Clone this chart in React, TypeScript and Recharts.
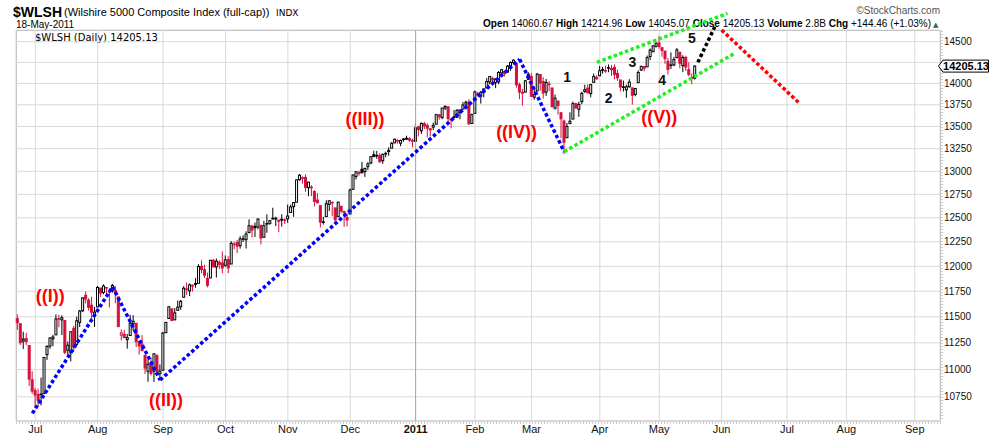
import React from 'react';
import { ComposedChart, Bar, XAxis, YAxis, CartesianGrid, ReferenceLine, ReferenceDot } from 'recharts';

// [day, open, high, low, close]
type Ohlc = [number, number, number, number, number];

const FONT = '"Liberation Sans", Arial, sans-serif';

const closeBefore = 11479; // 22-Jun-2010 close, colours the first bar

const jun2010: Ohlc[] = [
  [23, 11482, 11524, 11374, 11444], [24, 11433, 11433, 11230, 11252], [25, 11267, 11356, 11192, 11285],
  [28, 11292, 11346, 11229, 11262], [29, 11225, 11225, 10849, 10912], [30, 10906, 10984, 10777, 10802],
];
const jul2010: Ohlc[] = [
  [1, 10806, 10832, 10650, 10767], [2, 10770, 10825, 10660, 10717], [6, 10775, 10925, 10673, 10775],
  [7, 10779, 11118, 10779, 11112], [8, 11139, 11227, 11090, 11217], [9, 11219, 11300, 11194, 11297],
  [12, 11289, 11327, 11219, 11306], [13, 11326, 11523, 11326, 11479], [14, 11482, 11519, 11399, 11478],
  [15, 11470, 11514, 11324, 11491], [16, 11464, 11464, 11143, 11160], [19, 11181, 11263, 11120, 11227],
  [20, 11156, 11359, 11076, 11355], [21, 11389, 11413, 11164, 11209], [22, 11236, 11502, 11236, 11462],
  [23, 11446, 11567, 11401, 11556], [26, 11558, 11687, 11547, 11685], [27, 11710, 11748, 11631, 11673],
  [28, 11662, 11682, 11560, 11592], [29, 11613, 11695, 11453, 11544], [30, 11511, 11595, 11402, 11545],
];
const aug2010: Ohlc[] = [
  [2, 11596, 11803, 11596, 11788], [3, 11782, 11783, 11693, 11732], [4, 11738, 11819, 11721, 11802],
  [5, 11787, 11795, 11715, 11787], [6, 11748, 11759, 11592, 11743], [9, 11756, 11823, 11736, 11808],
  [10, 11757, 11802, 11632, 11738], [11, 11694, 11694, 11398, 11407], [12, 11323, 11378, 11273, 11345],
  [13, 11331, 11374, 11297, 11300], [16, 11281, 11335, 11195, 11301], [17, 11320, 11518, 11320, 11438],
  [18, 11434, 11515, 11368, 11456], [19, 11437, 11437, 11210, 11262], [20, 11262, 11262, 11139, 11221],
  [23, 11238, 11324, 11173, 11176], [24, 11132, 11132, 10959, 11013], [25, 10983, 11092, 10887, 11049],
  [26, 11059, 11114, 10945, 10964], [27, 10986, 11153, 10886, 11146], [30, 11129, 11144, 10981, 10982],
  [31, 10961, 11047, 10898, 10986],
];
const sep2010: Ohlc[] = [
  [1, 10995, 11354, 10990, 11343], [2, 11347, 11446, 11344, 11446], [3, 11483, 11604, 11483, 11597],
  [7, 11577, 11577, 11458, 11464], [8, 11470, 11585, 11470, 11538], [9, 11563, 11658, 11563, 11594],
  [10, 11598, 11664, 11568, 11651], [13, 11691, 11801, 11691, 11780], [14, 11773, 11838, 11714, 11772],
  [15, 11754, 11828, 11703, 11814], [16, 11801, 11817, 11748, 11809], [17, 11827, 11881, 11785, 11819],
  [20, 11829, 12021, 11829, 11998], [21, 11999, 12060, 11930, 11968], [22, 11965, 12016, 11882, 11910],
  [23, 11877, 11936, 11789, 11810], [24, 11883, 12063, 11883, 12061], [27, 12060, 12074, 11991, 11993],
  [28, 11994, 12078, 11887, 12051], [29, 12041, 12060, 11973, 12019], [30, 12033, 12151, 11929, 11983],
];
const oct2010: Ohlc[] = [
  [1, 12010, 12110, 11995, 12065], [4, 12068, 12102, 11930, 11984], [5, 12023, 12256, 12023, 12235],
  [6, 12224, 12251, 12173, 12226], [7, 12243, 12268, 12136, 12206], [8, 12210, 12308, 12180, 12281],
  [11, 12282, 12318, 12248, 12282], [12, 12272, 12359, 12181, 12330], [13, 12345, 12484, 12345, 12417],
  [14, 12414, 12426, 12297, 12372], [15, 12411, 12450, 12301, 12397], [18, 12403, 12495, 12380, 12487],
  [19, 12422, 12422, 12223, 12289], [20, 12297, 12468, 12297, 12418], [21, 12435, 12536, 12344, 12440],
  [22, 12442, 12478, 12427, 12470], [25, 12487, 12607, 12487, 12496], [26, 12489, 12512, 12413, 12496],
  [27, 12477, 12477, 12350, 12464], [28, 12485, 12537, 12407, 12477], [29, 12478, 12495, 12434, 12472],
];
const nov2010: Ohlc[] = [
  [1, 12490, 12640, 12448, 12519], [2, 12556, 12641, 12556, 12616], [3, 12618, 12666, 12511, 12662],
  [4, 12666, 12909, 12666, 12907], [5, 12908, 12970, 12898, 12957], [8, 12929, 12944, 12866, 12930],
  [9, 12933, 12967, 12778, 12825], [10, 12822, 12883, 12729, 12882], [11, 12821, 12848, 12732, 12827],
  [12, 12780, 12795, 12622, 12675], [15, 12688, 12762, 12654, 12660], [16, 12629, 12629, 12399, 12455],
  [17, 12455, 12511, 12429, 12458], [18, 12513, 12687, 12513, 12649], [19, 12643, 12684, 12572, 12681],
  [22, 12664, 12672, 12518, 12661], [23, 12605, 12605, 12440, 12480], [24, 12512, 12669, 12512, 12667],
  [26, 12623, 12623, 12546, 12572], [29, 12569, 12569, 12405, 12555], [30, 12504, 12551, 12410, 12478],
];
const dec2010: Ohlc[] = [
  [1, 12540, 12813, 12540, 12796], [2, 12804, 12964, 12804, 12960], [3, 12943, 13004, 12910, 12994],
  [6, 12986, 13006, 12952, 12977], [7, 13022, 13104, 12979, 12984], [8, 12997, 13039, 12939, 13032],
  [9, 13051, 13100, 13014, 13082], [10, 13091, 13161, 13078, 13161], [13, 13183, 13228, 13160, 13162],
  [14, 13176, 13226, 13137, 13173], [15, 13173, 13202, 13093, 13106], [16, 13117, 13196, 13081, 13187],
  [17, 13195, 13218, 13155, 13198], [20, 13218, 13265, 13172, 13232], [21, 13256, 13324, 13256, 13311],
  [22, 13315, 13362, 13315, 13356], [23, 13342, 13354, 13306, 13335], [27, 13312, 13352, 13278, 13342],
  [28, 13359, 13368, 13328, 13353], [29, 13356, 13396, 13356, 13367], [30, 13362, 13380, 13329, 13346],
  [31, 13335, 13361, 13265, 13343],
];
const jan2011: Ohlc[] = [
  [3, 13333, 13531, 13333, 13485], [4, 13496, 13509, 13387, 13467], [5, 13452, 13546, 13416, 13535],
  [6, 13532, 13552, 13469, 13506], [7, 13512, 13537, 13377, 13481], [10, 13474, 13481, 13387, 13462],
  [11, 13493, 13546, 13461, 13513], [12, 13526, 13645, 13526, 13635], [13, 13633, 13643, 13577, 13612],
  [14, 13602, 13712, 13583, 13712], [18, 13712, 13743, 13688, 13731], [19, 13726, 13727, 13560, 13592],
  [20, 13581, 13583, 13479, 13575], [21, 13610, 13690, 13594, 13607], [24, 13606, 13698, 13598, 13686],
  [25, 13659, 13692, 13583, 13690], [26, 13699, 13781, 13699, 13748], [27, 13757, 13798, 13725, 13779],
  [28, 13780, 13813, 13519, 13532], [31, 13534, 13648, 13534, 13636],
];
const feb2011: Ohlc[] = [
  [1, 13650, 13914, 13650, 13900], [2, 13882, 13900, 13847, 13862], [3, 13849, 13910, 13764, 13894],
  [4, 13893, 13936, 13837, 13935], [7, 13946, 14062, 13946, 14022], [8, 14019, 14084, 13989, 14081],
  [9, 14058, 14079, 13977, 14041], [10, 14011, 14061, 13943, 14052], [11, 14018, 14146, 13990, 14129],
  [14, 14124, 14170, 14105, 14162], [15, 14142, 14142, 14081, 14117], [16, 14133, 14219, 14133, 14205],
  [17, 14185, 14260, 14149, 14248], [18, 14248, 14288, 14224, 14276], [22, 14233, 14233, 13950, 13983],
  [23, 13983, 14009, 13814, 13898], [24, 13894, 13935, 13740, 13884], [25, 13897, 14038, 13897, 14031],
  [28, 14048, 14132, 14041, 14108],
];
const mar2011: Ohlc[] = [
  [1, 14083, 14120, 13845, 13847], [2, 13838, 13931, 13808, 13869], [3, 13911, 14122, 13911, 14109],
  [4, 14105, 14110, 13914, 14004], [7, 14021, 14074, 13822, 13887], [8, 13898, 14052, 13853, 14011],
  [9, 13991, 14026, 13910, 13992], [10, 13946, 13946, 13719, 13728], [11, 13710, 13868, 13695, 13826],
  [14, 13793, 13793, 13636, 13742], [15, 13658, 13658, 13368, 13588], [16, 13563, 13578, 13190, 13323],
  [17, 13373, 13540, 13373, 13501], [18, 13533, 13662, 13528, 13560], [21, 13585, 13786, 13585, 13763],
  [22, 13762, 13773, 13703, 13714], [23, 13697, 13785, 13611, 13754], [24, 13786, 13900, 13756, 13883],
  [25, 13905, 13984, 13888, 13926], [28, 13944, 13989, 13888, 13888], [29, 13880, 13986, 13836, 13986],
  [30, 14012, 14116, 14012, 14080], [31, 14070, 14096, 14045, 14053],
];
const apr2011: Ohlc[] = [
  [1, 14090, 14208, 14085, 14150], [4, 14163, 14196, 14115, 14155], [5, 14146, 14212, 14125, 14152],
  [6, 14187, 14224, 14132, 14183], [7, 14176, 14218, 14089, 14162], [8, 14190, 14225, 14049, 14106],
  [11, 14118, 14163, 14030, 14066], [12, 14040, 14040, 13907, 13957], [13, 13955, 14033, 13904, 13959],
  [14, 13924, 13984, 13831, 13960], [15, 13960, 14049, 13949, 14015], [18, 13947, 13947, 13750, 13860],
  [19, 13870, 13941, 13848, 13940], [20, 14009, 14153, 14009, 14129], [21, 14159, 14204, 14146, 14203],
  [25, 14200, 14205, 14143, 14180], [26, 14196, 14332, 14196, 14307], [27, 14320, 14417, 14276, 14398],
  [28, 14378, 14461, 14375, 14449], [29, 14444, 14492, 14429, 14481],
];
const may2011: Ohlc[] = [
  [2, 14485, 14570, 14415, 14442], [3, 14427, 14438, 14318, 14394], [4, 14386, 14386, 14233, 14295],
  [5, 14262, 14302, 14103, 14165], [6, 14220, 14370, 14171, 14220], [9, 14220, 14317, 14203, 14284],
  [10, 14306, 14423, 14306, 14400], [11, 14371, 14371, 14179, 14240], [12, 14211, 14335, 14133, 14309],
  [13, 14310, 14329, 14147, 14194], [16, 14162, 14252, 14083, 14106], [17, 14070, 14116, 13990, 14060.67],
  [18, 14060.67, 14214.96, 14045.07, 14205.13],
];

const candleMonths: [string, Ohlc[]][] = [
  ['2010-06', jun2010], ['2010-07', jul2010], ['2010-08', aug2010], ['2010-09', sep2010],
  ['2010-10', oct2010], ['2010-11', nov2010], ['2010-12', dec2010], ['2011-01', jan2011],
  ['2011-02', feb2011], ['2011-03', mar2011], ['2011-04', apr2011], ['2011-05', may2011],
];

// empty trading days the chart leaves room for on the right
const futureMonths: [string, number[]][] = [
  ['2011-05', [19, 20, 23, 24, 25, 26, 27, 31]],
  ['2011-06', [1, 2, 3, 6, 7, 8, 9, 10, 13, 14, 15, 16, 17, 20, 21, 22, 23, 24, 27, 28, 29, 30]],
  ['2011-07', [1, 5, 6, 7, 8, 11, 12, 13, 14, 15, 18, 19, 20, 21, 22, 25, 26, 27, 28, 29]],
  ['2011-08', [1, 2, 3, 4, 5, 8, 9, 10, 11, 12, 15, 16, 17, 18, 19, 22, 23, 24, 25, 26, 29, 30, 31]],
  ['2011-09', [1, 2, 6, 7, 8, 9, 12, 13, 14]],
];

const monthTicks: [string, string][] = [
  ['2010-07-01', 'Jul'], ['2010-08-02', 'Aug'], ['2010-09-01', 'Sep'], ['2010-10-01', 'Oct'],
  ['2010-11-01', 'Nov'], ['2010-12-01', 'Dec'], ['2011-01-03', '2011'], ['2011-02-01', 'Feb'],
  ['2011-03-01', 'Mar'], ['2011-04-01', 'Apr'], ['2011-05-02', 'May'], ['2011-06-01', 'Jun'],
  ['2011-07-01', 'Jul'], ['2011-08-01', 'Aug'], ['2011-09-01', 'Sep'],
];

const priceTicks = [10750, 11000, 11250, 11500, 11750, 12000, 12250, 12500, 12750, 13000, 13250, 13500, 13750, 14000, 14250, 14500];
const priceDomain = [10533, 14644];

// hand drawn wave lines: [date, price]
const blueWave: [string, number][] = [['2010-06-30', 10601], ['2010-08-09', 11794], ['2010-08-31', 10903], ['2011-02-23', 14287], ['2011-03-16', 13216]];
const greenLower: [string, number][] = [['2011-03-16', 13216], ['2011-06-07', 14350]];
const greenUpper: [string, number][] = [['2011-03-31', 14250], ['2011-06-03', 14851]];
const blackLeg: [string, number][] = [['2011-05-19', 14250], ['2011-05-27', 14706]];
const redLeg: [string, number][] = [['2011-06-01', 14644], ['2011-07-08', 13773]];

const dottedPaths = [
  { pts: blueWave, color: '#0000ff' },
  { pts: greenLower, color: '#22ee22' },
  { pts: greenUpper, color: '#22ee22' },
  { pts: blackLeg, color: '#000000' },
  { pts: redLeg, color: '#ff0000' },
];

const waveLabels: [string, number, string][] = [
  ['2010-07-09', 11703, '((I))'], ['2010-09-02', 10722, '((II))'], ['2010-12-08', 13585, '((III))'],
  ['2011-02-22', 13437, '((IV))'], ['2011-05-02', 13608, '((V))'],
];
const subLabels: [string, number, string][] = [
  ['2011-03-17', 14075, '1'], ['2011-04-06', 13828, '2'], ['2011-04-18', 14254, '3'],
  ['2011-05-03', 14039, '4'], ['2011-05-17', 14545, '5'],
];

const quote: [string, string][] = [
  ['Open', '14060.67'], ['High', '14214.96'], ['Low', '14045.07'], ['Close', '14205.13'],
  ['Volume', '2.8B'], ['Chg', '+144.46 (+1.03%)'],
];

const pad = (n: number) => String(n).padStart(2, '0');

const rows: any[] = [];
let prevClose = closeBefore;
for (const [m, list] of candleMonths) {
  for (const [day, o, h, l, c] of list) {
    rows.push({ d: `${m}-${pad(day)}`, o, h, l, c, pc: prevClose, range: [l, h] });
    prevClose = c;
  }
}
for (const [m, days] of futureMonths) {
  for (const day of days) rows.push({ d: `${m}-${pad(day)}` });
}
const lastClose = prevClose;

const tickLabel: Record<string, string> = Object.fromEntries(monthTicks);

const Candle = (props: any) => {
  const { x, y, width, height, payload } = props;
  if (!payload || payload.o == null) return null;
  const { o, h, l, c, pc } = payload;
  const cx = x + width / 2;
  const yTop = Math.min(y, y + height);
  const yBot = Math.max(y, y + height);
  const span = Math.log(h) - Math.log(l);
  const py = (v: number) => (span > 0 ? yTop + ((yBot - yTop) * (Math.log(h) - Math.log(v))) / span : yTop);
  const color = c >= pc ? '#000000' : '#d6103c';
  const filled = c < o;
  const bTop = py(Math.max(o, c));
  const bBot = py(Math.min(o, c));
  return (
    <g>
      <line x1={cx} x2={cx} y1={yTop} y2={yBot} stroke={color} strokeWidth={1} />
      <rect x={cx - 1} y={bTop} width={2} height={Math.max(bBot - bTop, 0.6)} fill={filled ? color : '#ffffff'} stroke={color} strokeWidth={1} />
    </g>
  );
};

const MonthTick = ({ x, y, payload }: any) => {
  const label = tickLabel[payload.value] ?? '';
  return (
    <text x={x} y={y + 12} textAnchor="middle" fontFamily={FONT} fontSize={11} fontWeight={label === '2011' ? 'bold' : 'normal'} fill="#111">
      {label}
    </text>
  );
};

// the last-price tag sits over the tick next to it, as in the original
const PriceTick = ({ x, y, payload }: any) => {
  if (Math.abs(Math.log(payload.value / lastClose)) < 0.01) return null;
  return (
    <text x={x} y={y + 3.5} textAnchor="start" fontFamily={FONT} fontSize={10} fill="#111">
      {payload.value}
    </text>
  );
};

const PriceTag = ({ cx, cy }: any) => (
  <g>
    <path d={`M${cx},${cy} L${cx + 4.5},${cy - 6} L${cx + 50},${cy - 6} L${cx + 50},${cy + 6} L${cx + 4.5},${cy + 6} Z`} fill="#fff" stroke="#000" strokeWidth={1} />
    <text x={cx + 27.5} y={cy + 4} textAnchor="middle" fontFamily={FONT} fontSize={11} fontWeight="bold" fill="#000">
      {lastClose.toFixed(2)}
    </text>
  </g>
);

export default function App() {
  return (
    <div style={{ position: 'absolute', left: 0, top: 0, width: 990, height: 438, background: '#fff', overflow: 'hidden' }}>
      <svg width={990} height={438} style={{ position: 'absolute', left: 0, top: 0 }}>
        <rect x={16.5} y={30.5} width={924} height={390.5} fill="none" stroke="#b0b0b0" strokeWidth={1} />
        <line x1={942} x2={942} y1={31} y2={421} stroke="#999" strokeDasharray="1 2" />
        <line x1={16} x2={941} y1={423} y2={423} stroke="#999" strokeDasharray="1 2" />
        <text x={13} y={17} fontFamily={FONT} fontSize={14} fontWeight="bold" fill="#000">$WLSH</text>
        <text x={64} y={16} fontFamily={FONT} fontSize={11} fill="#000">(Wilshire 5000 Composite Index (full-cap))</text>
        <text x={276} y={16} fontFamily='"DejaVu Sans", sans-serif' fontSize={9} fill="#000">INDX</text>
        <text x={16} y={28} fontFamily={FONT} fontSize={10} fill="#000">18-May-2011</text>
        <text x={940} y={14} textAnchor="end" fontFamily={FONT} fontSize={10} fill="#555">©StockCharts.com</text>
        <text x={931} y={27} textAnchor="end" fontFamily={FONT} fontSize={10} fill="#000" style={{ whiteSpace: 'pre' }}>
          {quote.map(([k, v], i) => (
            <React.Fragment key={k}>
              <tspan fontWeight="bold">{(i ? ' ' : '') + k}</tspan>
              <tspan>{' ' + v}</tspan>
            </React.Fragment>
          ))}
        </text>
        <text x={933} y={27} fontFamily='"DejaVu Sans", sans-serif' fontSize={7} fill="#2e6b2e">▲</text>
        <text x={35} y={40.5} fontFamily='"DejaVu Sans", sans-serif' fontSize={10} fill="#000">$WLSH (Daily) 14205.13</text>
      </svg>
      <div style={{ position: 'absolute', left: 0, top: 0 }}>
        <ComposedChart width={990} height={438} data={rows} margin={{ top: 30, right: 0, bottom: 0, left: 16 }}>
          <CartesianGrid stroke="#d9d9d9" strokeWidth={1} />
          <XAxis
            dataKey="d"
            ticks={monthTicks.map((t) => t[0])}
            interval={0}
            height={17}
            tickSize={0}
            tickMargin={0}
            axisLine={false}
            tickLine={false}
            tick={<MonthTick />}
          />
          <YAxis
            orientation="right"
            scale="log"
            domain={priceDomain}
            allowDataOverflow
            ticks={priceTicks}
            interval={0}
            width={50}
            tickSize={0}
            tickMargin={4}
            axisLine={false}
            tickLine={false}
            tick={<PriceTick />}
          />
          <ReferenceLine x="2011-01-03" stroke="#a8a8a8" strokeWidth={1} />
          <Bar dataKey="range" isAnimationActive={false} shape={(p: any) => <Candle {...p} />} />
          {dottedPaths.flatMap((path, pi) =>
            path.pts.slice(1).map((pt, i) => (
              <ReferenceLine
                key={`seg-${pi}-${i}`}
                segment={[{ x: path.pts[i][0], y: path.pts[i][1] }, { x: pt[0], y: pt[1] }]}
                stroke={path.color}
                strokeWidth={3.5}
                strokeDasharray="3.5 2.5"
                ifOverflow="visible"
              />
            ))
          )}
          {waveLabels.map(([d, v, t]) => (
            <ReferenceDot
              key={t}
              x={d}
              y={v}
              r={0}
              ifOverflow="visible"
              shape={(p: any) => (
                <text x={p.cx} y={p.cy} textAnchor="middle" dominantBaseline="central" fontFamily={FONT} fontSize={18} fontWeight="bold" fill="#ff0000">
                  {t}
                </text>
              )}
            />
          ))}
          {subLabels.map(([d, v, t]) => (
            <ReferenceDot
              key={`n${t}`}
              x={d}
              y={v}
              r={0}
              ifOverflow="visible"
              shape={(p: any) => (
                <text x={p.cx} y={p.cy} textAnchor="middle" dominantBaseline="central" fontFamily={FONT} fontSize={14} fontWeight="bold" fill="#111">
                  {t}
                </text>
              )}
            />
          ))}
          <ReferenceDot x="2011-09-14" y={lastClose} r={0} ifOverflow="visible" shape={(p: any) => <PriceTag {...p} />} />
        </ComposedChart>
      </div>
    </div>
  );
}
